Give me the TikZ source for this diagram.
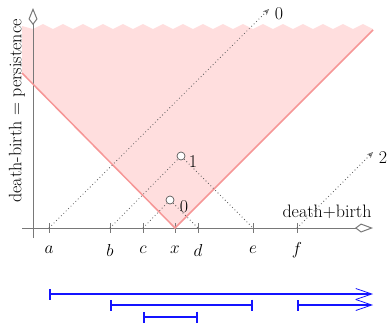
\documentclass[tikz,border=0pt]{standalone}
\usetikzlibrary{arrows.meta}
\definecolor{pinkfill}{RGB}{255,222,222}
\definecolor{pinkline}{RGB}{246,150,150}
\definecolor{axisgray}{RGB}{120,120,120}
\definecolor{dotgray}{RGB}{90,90,90}
\definecolor{barblue}{RGB}{20,20,255}
\begin{document}
\begin{tikzpicture}[x=1pt,y=-1pt,
  every node/.style={font=\fontsize{18}{21}\selectfont, inner sep=1pt},
  axisline/.style={draw=axisgray, line width=1pt},
  vline/.style={draw=pinkline, line width=1.5pt},
  dotline/.style={draw=dotgray, line width=0.8pt, dash pattern=on 0.8pt off 2.6pt},
  dotarrow/.style={dotline, -{Stealth[open, length=6pt, width=5pt, line width=0.6pt]}},
  pt/.style={circle, draw=dotgray, fill=white, line width=0.7pt, inner sep=0pt, minimum size=8pt},
  bar/.style={draw=barblue, line width=1.8pt},
  bartip/.style={bar, {Bar[width=11pt]}-{Bar[width=11pt]}},
  bararrow/.style={bar, {Bar[width=11pt]}-{Straight Barb[length=16pt, width=11pt, line width=0.8pt]}},
]
\useasboundingbox (0,0) rectangle (388,322);

% pink region
\fill[pinkfill] (22,73) -- (175,228) -- (373,30) -- (373,29)
  \foreach \k in {0,...,16} { -- ({373-20*\k-10},24) -- ({373-20*\k-20},29) }
  -- (22,26) -- cycle;

% axes
\coordinate (yb) at (33,238);
\coordinate (yt) at (33,8);
\coordinate (xl) at (22,228);
\coordinate (xr) at (373,228);
\draw[axisline, -{Kite[open, length=17pt, width=9pt, inset=6pt, fill=white]}] (yb) -- (yt);
\draw[axisline, -{Kite[open, length=18pt, width=9pt, inset=6pt, fill=white]}] (xl) -- (xr);

% ticks and labels
\foreach \n/\x in {a/49, b/110, c/143, x/175, d/198, e/253, f/297} {
  \coordinate (t\n) at (\x,228);
  \draw[axisline] (\x,223) -- (\x,233);
  \node (l\n) at (\x,250) {$\n$};
}

% V lines
\coordinate (vl) at (22,73);
\coordinate (vr) at (373,30);
\draw[vline] (vl) -- (tx) -- (vr);

% points
\node[pt] (p1) at (181,156) {};
\node[pt] (p0) at (170,200) {};
\node (n1) at (193,162) {1};
\node (n0) at (184,207) {0};

% dotted lines
\coordinate (q0) at (269,9);
\coordinate (q2) at (373,152);
\draw[dotarrow] (ta) -- (q0);
\node (m0) at (279,14) {0};
\draw[dotline] (tb) -- (p1) -- (te);
\draw[dotline] (tc) -- (p0) -- (td);
\draw[dotarrow] (tf) -- (q2);
\node (m2) at (383,158) {2};

% axis labels
\node (xlab) at (327,212) {death+birth};
\node[rotate=90] (ylab) at (17,111) {death-birth = persistence};

% barcode
\coordinate (b1s) at (49,294);  \coordinate (b1e) at (373,294);
\coordinate (b2s) at (110,305); \coordinate (b2e) at (253,305);
\coordinate (b3s) at (297,305); \coordinate (b3e) at (373,305);
\coordinate (b4s) at (143,317); \coordinate (b4e) at (198,317);
\draw[bararrow] (b1s) -- (b1e);
\draw[bartip] (b2s) -- (b2e);
\draw[bararrow] (b3s) -- (b3e);
\draw[bartip] (b4s) -- (b4e);
\end{tikzpicture}
\end{document}
